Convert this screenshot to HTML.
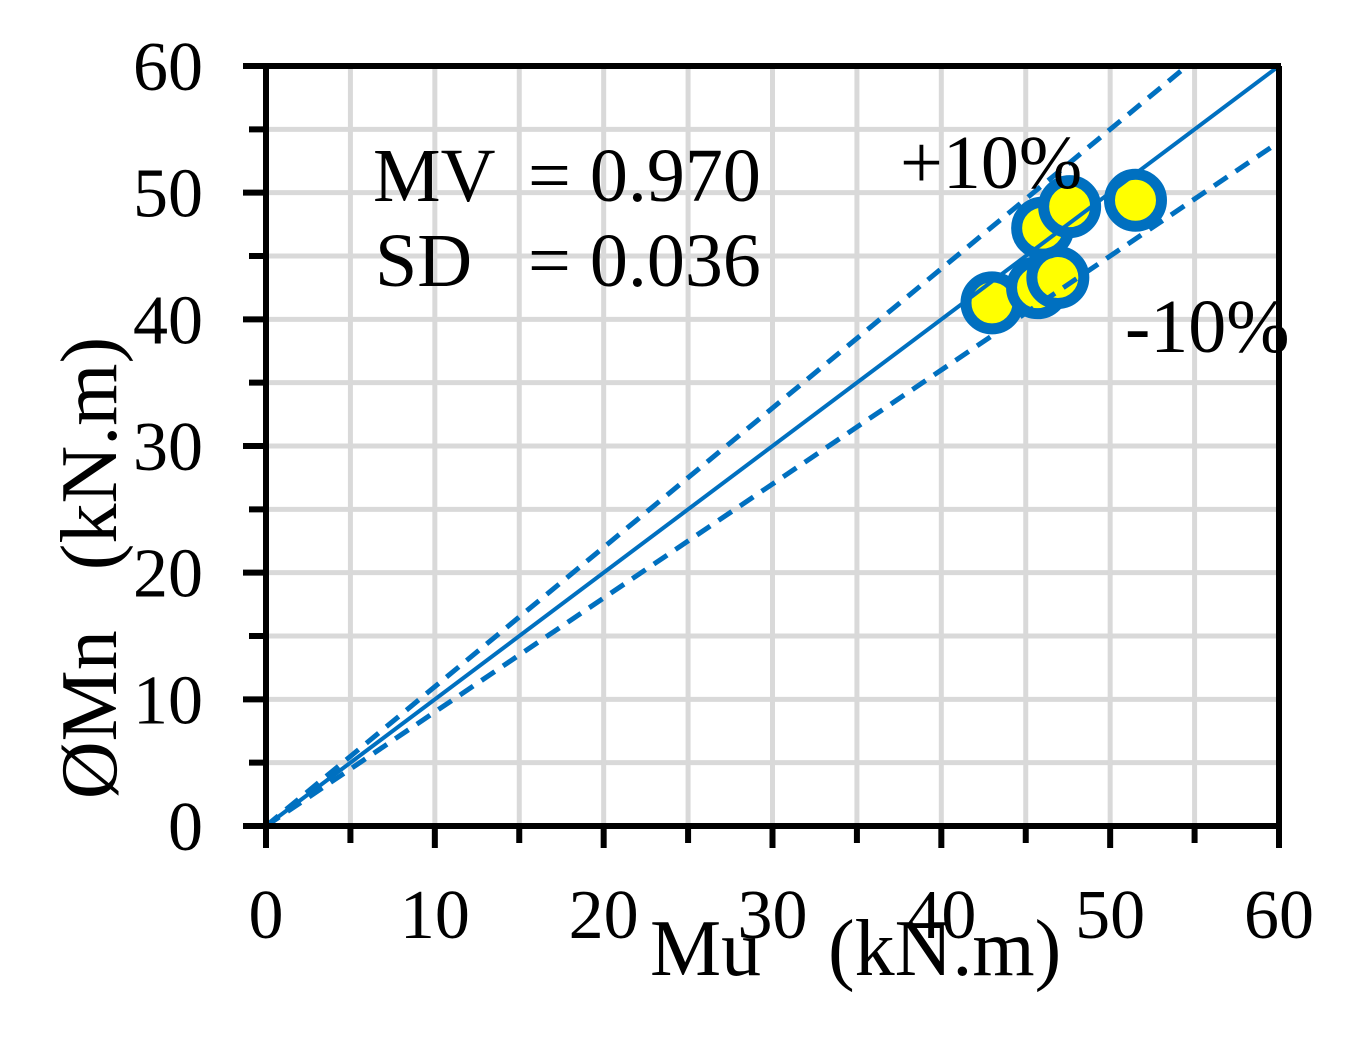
<!DOCTYPE html>
<html><head><meta charset="utf-8"><style>
body{margin:0;background:#fff}
svg text{font-family:"Liberation Serif",serif;fill:#000}
</style></head><body>
<svg id="chart" width="1371" height="1033" xmlns="http://www.w3.org/2000/svg">
<g id="grid"></g>
<g id="points"></g>
<g id="lines"></g>
<g id="axes"></g>
<text x="373" y="201" font-size="76">MV</text>
<text x="528" y="201" font-size="76">= 0.970</text>
<text x="375" y="286" font-size="76">SD</text>
<text x="528" y="286" font-size="76">= 0.036</text>
<text x="900" y="188" font-size="76">+10%</text>
<text x="1125" y="352" font-size="76">-10%</text>
<text x="650" y="975" font-size="80">Mu</text>
<text x="828" y="975" font-size="80">(kN.m)</text>
<text transform="translate(116,568) rotate(-90)" font-size="80" text-anchor="middle" xml:space="preserve">ØMn   (kN.m)</text>
</svg>
<script>
const xTicks=[0,10,20,30,40,50,60];
const yTicks=[0,10,20,30,40,50,60];
const muValues=[43.0,45.7,46.9,46.0,47.6,51.5];
const mnValues=[41.3,42.5,43.3,47.2,48.9,49.4];
const upperFactor=1.1, lowerFactor=0.9;
const X0=266,X1=1279,Y0=826,Y1=66;
const sx=v=>X0+(v/60)*(X1-X0), sy=v=>Y0-(v/60)*(Y0-Y1);
const NS="http://www.w3.org/2000/svg";
function mk(tag,attrs,parent){const e=document.createElementNS(NS,tag);for(const k in attrs)e.setAttribute(k,attrs[k]);parent.appendChild(e);return e;}
const grid=document.getElementById('grid'),axes=document.getElementById('axes'),pts=document.getElementById('points'),lines=document.getElementById('lines');
for(let v=5;v<=60;v+=5){
 let g=mk('line',{x1:sx(v),x2:sx(v),y1:Y1,y2:Y0,stroke:'#d9d9d9','stroke-width':5},grid);
 
 
 let h=mk('line',{x1:X0,x2:X1,y1:sy(v),y2:sy(v),stroke:'#d9d9d9','stroke-width':5},grid);
 
 
}
for(let i=0;i<muValues.length;i++){
 let c=mk('circle',{cx:sx(muValues[i]),cy:sy(mnValues[i]),r:26,fill:'#ffff00',stroke:'#0070c0','stroke-width':11},pts);
 
 
}
let l=mk('line',{x1:sx(0),y1:sy(0),x2:sx(60),y2:sy(60),stroke:'#0070c0','stroke-width':4},lines);


let xu=60/upperFactor;
l=mk('line',{x1:sx(0),y1:sy(0),x2:sx(xu),y2:sy(xu*upperFactor),stroke:'#0070c0','stroke-width':5,'stroke-dasharray':'16 10'},lines);


l=mk('line',{x1:sx(0),y1:sy(0),x2:sx(60),y2:sy(60*lowerFactor),stroke:'#0070c0','stroke-width':5,'stroke-dasharray':'16 10'},lines);


let a=mk('line',{x1:X0,x2:X0,y1:Y1-3,y2:Y0+22,stroke:'#000','stroke-width':6},axes);


a=mk('line',{x1:243,x2:X1+2,y1:Y0,y2:Y0,stroke:'#000','stroke-width':6},axes);


a=mk('line',{x1:243,x2:X1+2,y1:Y1,y2:Y1,stroke:'#000','stroke-width':6},axes);


a=mk('line',{x1:X1,x2:X1,y1:Y1,y2:Y0+22,stroke:'#000','stroke-width':6},axes);


for(let v=5;v<60;v+=5){
 let major=v%10===0;
 let t=mk('line',{x1:major?243:249,x2:X0,y1:sy(v),y2:sy(v),stroke:'#000','stroke-width':6},axes);
 
 
 let u=mk('line',{x1:sx(v),x2:sx(v),y1:Y0,y2:Y0+(major?22:17),stroke:'#000','stroke-width':6},axes);
 
 
}
yTicks.forEach(v=>{
 let t=mk('text',{x:203,y:sy(v)+24,'font-size':70,'text-anchor':'end'},axes);
 t.textContent=v;
 
 
});
xTicks.forEach(v=>{
 let t=mk('text',{x:sx(v),y:938,'font-size':70,'text-anchor':'middle'},axes);
 t.textContent=v;
 
 
});
</script>
</body></html>
